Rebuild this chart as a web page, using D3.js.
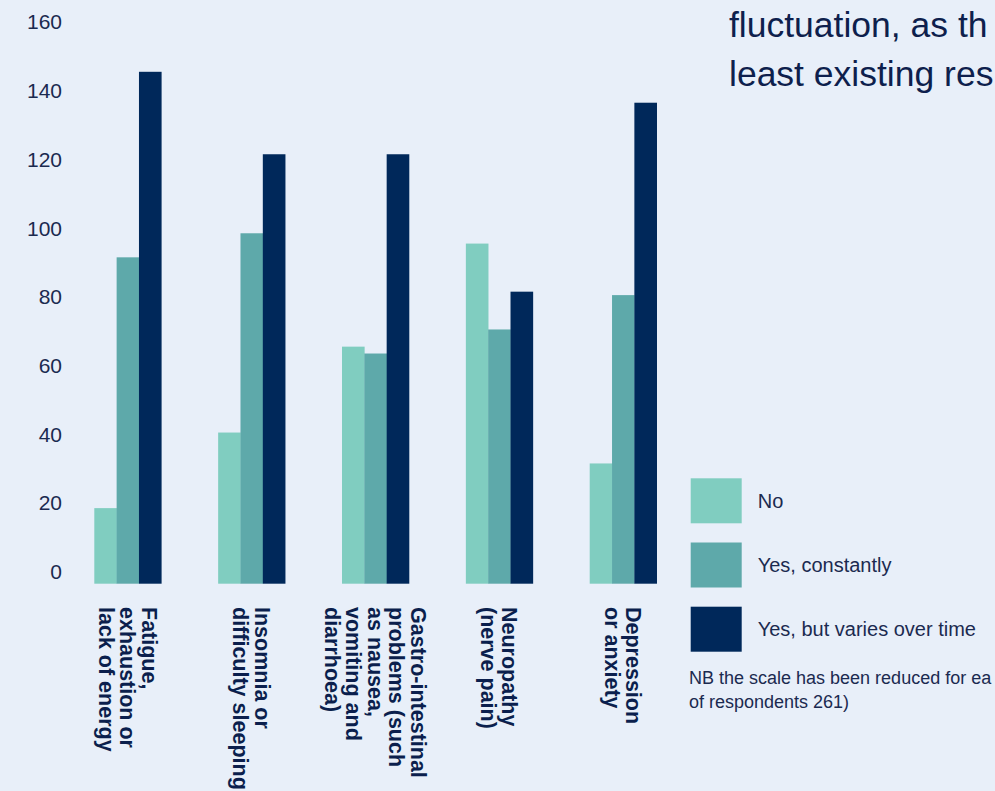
<!DOCTYPE html>
<html>
<head>
<meta charset="utf-8">
<script src="https://cdn.jsdelivr.net/npm/d3@7"></script>
<style>
  html, body { margin: 0; padding: 0; background: #e8eff9; overflow: hidden; }
  svg { display: block; font-family: "Liberation Sans", Arial, Helvetica, sans-serif; }
</style>
</head>
<body>
<svg id="chart" width="995" height="791"></svg>
<script>
// ---- data ----
const categoryNames = ["Fatigue", "Insomnia", "Gastro-intestinal", "Neuropathy", "Depression"];
const categoryLines = [
  ["Fatigue,", "exhaustion or", "lack of energy"],
  ["Insomnia or", "difficulty sleeping"],
  ["Gastro-intestinal", "problems (such", "as nausea,", "vomiting and", "diarrhoea)"],
  ["Neuropathy", "(nerve pain)"],
  ["Depression", "or anxiety"]
];
const seriesNames = ["No", "Yes, constantly", "Yes, but varies over time"];
const noValues = [19, 41, 66, 96, 32];
const constantlyValues = [92, 99, 64, 71, 81];
const variesValues = [146, 122, 122, 82, 137];
const yTickValues = [0, 20, 40, 60, 80, 100, 120, 140, 160];
const seriesColors = ["#80cdc0", "#5ea9aa", "#00285a"];
const headingLines = ["fluctuation, as th", "least existing res"];
const noteLines = ["NB the scale has been reduced for ea", "of respondents 261)"];

const seriesValues = [noValues, constantlyValues, variesValues];

const svg = d3.select("#chart");

// ---- scales ----
const y = d3.scaleLinear().domain([-3, 160]).range([583.7, 23.7]);
const x0 = d3.scaleBand().domain(categoryNames).range([94.3, 656.7]).paddingInner(0.459).paddingOuter(0);
const x1 = d3.scaleBand().domain(seriesNames).range([0, x0.bandwidth()]).padding(0);
const color = d3.scaleOrdinal().domain(seriesNames).range(seriesColors);

// ---- y axis labels ----
const yAxis = d3.axisLeft(y).tickValues(yTickValues).tickSize(0).tickPadding(0).tickFormat(d3.format("d"));
const ag = svg.append("g").attr("transform", "translate(62,-1.5)").call(yAxis);
ag.select(".domain").remove();
ag.selectAll("text")
  .attr("font-family", "'Liberation Sans', Arial, sans-serif")
  .attr("font-size", 21)
  .attr("fill", "#1b2a50");

// ---- bars ----
const rows = categoryNames.map((c, i) => ({
  cat: c,
  vals: seriesNames.map((s, j) => ({ series: s, value: seriesValues[j][i] }))
}));

const groups = svg.append("g").selectAll("g").data(rows).join("g")
  .attr("transform", d => `translate(${x0(d.cat)},0)`);

groups.selectAll("rect").data(d => d.vals).join("rect")
  .attr("x", d => x1(d.series))
  .attr("width", x1.bandwidth() + 0.3)
  .attr("y", d => y(d.value))
  .attr("height", d => y.range()[0] - y(d.value))
  .attr("fill", d => color(d.series));

// ---- category labels (rotated) ----
const fs = 21.5, lh = 21.5;
const labels = svg.append("g").selectAll("text").data(categoryNames).join("text")
  .attr("transform", d => `translate(${x0(d) + x0.bandwidth() / 2},607) rotate(90)`)
  .attr("font-size", fs)
  .attr("font-weight", "bold")
  .attr("fill", "#0b1f4d")
  .attr("text-anchor", "start");
labels.each(function(d, i) {
  const lines = categoryLines[i];
  const n = lines.length;
  d3.select(this).selectAll("tspan").data(lines).join("tspan")
    .attr("x", 0)
    .attr("y", (l, k) => (k - (n - 1) / 2) * lh + 0.36 * fs)
    .text(l => l);
});

// ---- legend ----
const legend = svg.append("g").attr("transform", "translate(690.7,478.3)");
const li = legend.selectAll("g").data(seriesNames).join("g")
  .attr("transform", (d, i) => `translate(0,${i * 64.2})`);
li.append("rect").attr("width", 51).attr("height", 45).attr("fill", d => color(d));
li.append("text").attr("x", 67).attr("y", 22.5).attr("dy", "0.35em")
  .attr("font-size", 20).attr("fill", "#1b2a50").text(d => d);

// ---- note ----
svg.append("g").selectAll("text").data(noteLines).join("text")
  .attr("x", 689).attr("y", (d, i) => 684 + i * 23.5)
  .attr("font-size", 18).attr("fill", "#1b2a50").text(d => d);

// ---- heading fragment ----
svg.append("g").selectAll("text").data(headingLines).join("text")
  .attr("x", 729).attr("y", (d, i) => 37 + i * 48.5)
  .attr("font-size", 35.5).attr("fill", "#0e1f4d").text(d => d);
</script>
</body>
</html>
